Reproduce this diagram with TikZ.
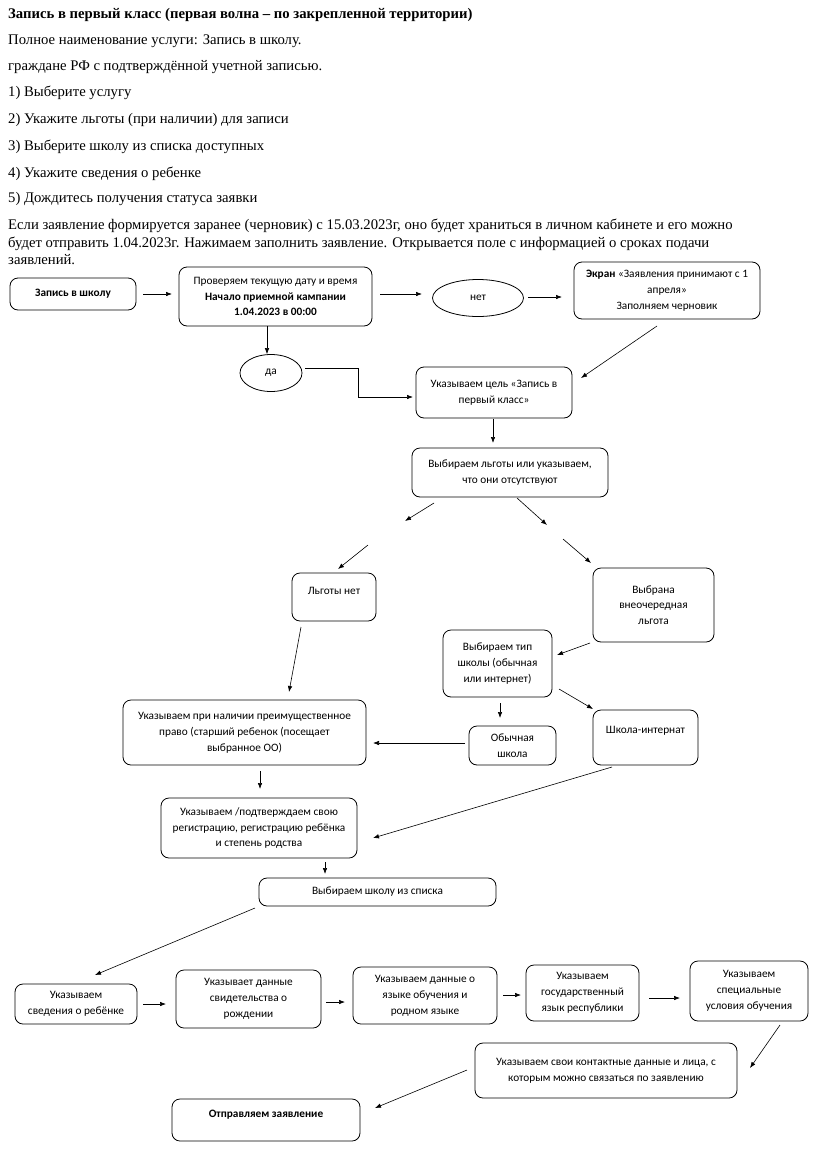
\documentclass[tikz,border=0pt]{standalone}
\usepackage{fontspec}
\setmainfont{Liberation Serif}
\newfontfamily\boxfont{Carlito}
\usetikzlibrary{arrows.meta,shapes.geometric}
\begin{document}
\begin{tikzpicture}[x=1pt,y=-1pt,
  box/.style={draw, rounded corners=8pt, align=center, inner sep=0pt, line width=0.8pt,
    font=\boxfont\fontsize{11.3}{15.8}\selectfont},
  oval/.style={draw, ellipse, inner sep=0pt, line width=0.8pt,
    font=\boxfont\fontsize{11.3}{15.8}\selectfont},
  arr/.style={-{Latex[length=6pt,width=4.5pt]}, line width=0.6pt},
  para/.style={anchor=base west, inner sep=0pt, font=\fontsize{14.7}{18}\selectfont}]
\useasboundingbox (0,0) rectangle (836,1170);

% --- header text ---
\node[para] (t1) at (8,18) {\textbf{Запись в первый класс (первая волна – по закрепленной территории)}};
\node[para] (t2) at (8,44) {Полное наименование услуги: Запись в школу.};
\node[para] (t3) at (8,70) {граждане РФ с подтверждённой учетной записью.};
\node[para] (t4) at (8,96) {1) Выберите услугу};
\node[para] (t5) at (8,123) {2) Укажите льготы (при наличии) для записи};
\node[para] (t6) at (8,150) {3) Выберите школу из списка доступных};
\node[para] (t7) at (8,177) {4) Укажите сведения о ребенке};
\node[para] (t8) at (8,202) {5) Дождитесь получения статуса заявки};
\node[para] (t9) at (8,229) {Если заявление формируется заранее (черновик) с 15.03.2023г, оно будет храниться в личном кабинете и его можно};
\node[para] (t10) at (8,247) {будет отправить 1.04.2023г. Нажимаем заполнить заявление. Открывается поле с информацией о сроках подачи};
\node[para] (t11) at (8,264) {заявлений.};

% --- nodes ---
\node[box, minimum width=126, minimum height=32] (zapis) at (73,294) {\textbf{Запись в школу}};
\node[box, minimum width=193, minimum height=59] (check) at (275.5,296.5) {Проверяем текущую дату и время\\\textbf{Начало приемной кампании}\\\textbf{1.04.2023 в 00:00}};
\node[oval, minimum width=91, minimum height=37] (net) at (478,298) {нет};
\node[box, minimum width=186, minimum height=57] (ekran) at (667,290.5) {\textbf{Экран} «Заявления принимают с 1\\апреля»\\Заполняем черновик};
\node[oval, minimum width=62, minimum height=37] (da) at (271,373) {да};
\node[box, minimum width=156, minimum height=51] (cel) at (494,392.5) {Указываем цель «Запись в\\первый класс»};
\node[box, minimum width=196, minimum height=49] (lgoty) at (510,472.5) {Выбираем льготы или указываем,\\что они отсутствуют};
\node[box, minimum width=84, minimum height=48] (lnet) at (334,597) {Льготы нет\\[-4pt]\mbox{}};
\node[box, minimum width=121, minimum height=74] (vybrana) at (653.5,605) {Выбрана\\внеочередная\\льгота};
\node[box, minimum width=109, minimum height=67] (tip) at (497.5,663.5) {Выбираем тип\\школы (обычная\\или интернет)};
\node[box, minimum width=243, minimum height=65] (preim) at (244.5,732.5) {Указываем при наличии преимущественное\\право (старший ребенок (посещает\\выбранное ОО)};
\node[box, minimum width=87, minimum height=39] (obych) at (512.5,745.5) {Обычная\\школа};
\node[box, minimum width=105, minimum height=55] (internat) at (645.5,737.5) {Школа-интернат\\\mbox{}};
\node[box, minimum width=196, minimum height=60] (reg) at (259,828) {Указываем /подтверждаем свою\\регистрацию, регистрацию ребёнка\\и степень родства};
\node[box, minimum width=237, minimum height=28] (spisok) at (377.5,892) {Выбираем школу из списка};
\node[box, minimum width=122, minimum height=40] (sved) at (76,1004) {Указываем\\сведения о ребёнке};
\node[box, minimum width=145, minimum height=58] (svid) at (248.5,999) {Указывает данные\\свидетельства о\\рождении};
\node[box, minimum width=144, minimum height=57] (yazyk) at (425,995.5) {Указываем данные о\\языке обучения и\\родном языке};
\node[box, minimum width=113, minimum height=56] (gos) at (582.5,993) {Указываем\\государственный\\язык республики};
\node[box, minimum width=118, minimum height=60] (spec) at (749,991) {Указываем\\специальные\\условия обучения};
\node[box, minimum width=262, minimum height=55] (kontakt) at (606,1070.5) {Указываем свои контактные данные и лица, с\\которым можно связаться по заявлению};
\node[box, minimum width=188, minimum height=42] (otpr) at (266,1120) {\textbf{Отправляем заявление}\\[-4pt]\mbox{}};

% --- connector end points ---
\coordinate (a1s) at (143,294);  \coordinate (a1e) at (172,294);
\coordinate (a3s) at (380,294);  \coordinate (a3e) at (422,294);
\coordinate (a4s) at (528,297);  \coordinate (a4e) at (562,297);
\coordinate (a5s) at (657,326);  \coordinate (a5e) at (581,378);
\coordinate (a6s) at (305,368);  \coordinate (a6m) at (358,397); \coordinate (a6e) at (413,397);
\coordinate (a7s) at (493,419);  \coordinate (a7e) at (493,443);
\coordinate (a8s) at (434,503);  \coordinate (a8e) at (405,521);
\coordinate (a9s) at (517,498);  \coordinate (a9e) at (547,525);
\coordinate (a10s) at (368,545); \coordinate (a10e) at (338,569);
\coordinate (a11s) at (563,539); \coordinate (a11e) at (591,563);
\coordinate (a12s) at (301,627); \coordinate (a12e) at (289,692);
\coordinate (a13s) at (590,643); \coordinate (a13e) at (557,655);
\coordinate (a14s) at (500,703); \coordinate (a14e) at (500,718);
\coordinate (a15s) at (559,689); \coordinate (a15e) at (593,709);
\coordinate (a16s) at (465,743); \coordinate (a16e) at (373,743);
\coordinate (a17s) at (260,771); \coordinate (a17e) at (260,789);
\coordinate (a18s) at (612,767); \coordinate (a18e) at (373,838);
\coordinate (a19s) at (325,862); \coordinate (a19e) at (325,874);
\coordinate (a20s) at (255,908); \coordinate (a20e) at (95,975);
\coordinate (a21s) at (143,1004); \coordinate (a21e) at (166,1004);
\coordinate (a22s) at (326,1002); \coordinate (a22e) at (345,1002);
\coordinate (a23s) at (503,995); \coordinate (a23e) at (521,995);
\coordinate (a24s) at (649,998); \coordinate (a24e) at (680,998);
\coordinate (a25s) at (780,1025); \coordinate (a25e) at (750,1068);
\coordinate (a26s) at (467,1070); \coordinate (a26e) at (375,1108);

% --- connectors ---
\draw[arr] (a1s) -- (a1e);
\draw[arr] (check.south -| 267,0) -- (da.north -| 267,0);
\draw[arr] (a3s) -- (a3e);
\draw[arr] (a4s) -- (a4e);
\draw[arr] (a5s) -- (a5e);
\draw[arr] (a6s) -| (a6m) -- (a6e);
\draw[arr] (a7s) -- (a7e);
\draw[arr] (a8s) -- (a8e);
\draw[arr] (a9s) -- (a9e);
\draw[arr] (a10s) -- (a10e);
\draw[arr] (a11s) -- (a11e);
\draw[arr] (a12s) -- (a12e);
\draw[arr] (a13s) -- (a13e);
\draw[arr] (a14s) -- (a14e);
\draw[arr] (a15s) -- (a15e);
\draw[arr] (a16s) -- (a16e);
\draw[arr] (a17s) -- (a17e);
\draw[arr] (a18s) -- (a18e);
\draw[arr] (a19s) -- (a19e);
\draw[arr] (a20s) -- (a20e);
\draw[arr] (a21s) -- (a21e);
\draw[arr] (a22s) -- (a22e);
\draw[arr] (a23s) -- (a23e);
\draw[arr] (a24s) -- (a24e);
\draw[arr] (a25s) -- (a25e);
\draw[arr] (a26s) -- (a26e);
\end{tikzpicture}
\end{document}
